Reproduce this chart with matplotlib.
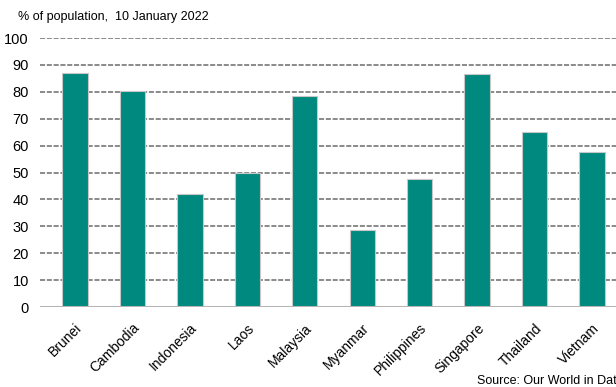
import matplotlib
matplotlib.use("Agg")
import matplotlib.pyplot as plt

categories = ["Brunei", "Cambodia", "Indonesia", "Laos", "Malaysia", "Myanmar",
              "Philippines", "Singapore", "Thailand", "Vietnam"]
values = [87.0, 80.3, 42.2, 49.8, 78.5, 28.6, 47.5, 86.6, 65.1, 57.6]
yticks = [0, 10, 20, 30, 40, 50, 60, 70, 80, 90, 100]

plt.rcParams['font.family'] = ['Liberation Sans', 'DejaVu Sans']

fig = plt.figure(figsize=(6.16, 3.87), dpi=100)
ax = fig.add_axes([0.065, 0.2067, 0.952, 0.695])

x = list(range(len(categories)))
ax.bar(x, values, width=0.44, color="#00897E", edgecolor="#c8c8c8", linewidth=0.8, zorder=3)

ax.set_xlim(-0.61, 9.6)
ax.set_ylim(0, 100)
ax.set_yticks(yticks)
ax.set_yticklabels([str(t) for t in yticks], fontsize=10.5)
ax.set_xticks(x)
ax.set_xticklabels(categories, rotation=45, ha="right", rotation_mode="anchor", fontsize=10)

for t in yticks[1:]:
    ax.axhline(t, color="#8a8a8a", linestyle=(0, (2.6, 0.9)), linewidth=1.4, zorder=1)
ax.axhline(0, color="#b5b5b5", linewidth=2.2, zorder=4)

for s in ax.spines.values():
    s.set_visible(False)
ax.tick_params(axis="both", length=0)
ax.tick_params(axis="y", pad=8)
ax.tick_params(axis="x", pad=10)

fig.text(0.03, 0.955, "% of population,  10 January 2022", fontsize=9, ha="left", va="center")
fig.text(0.775, 0.015, "Source: Our World in Data", fontsize=9, ha="left", va="center")

fig.savefig("out.png", dpi=100)
